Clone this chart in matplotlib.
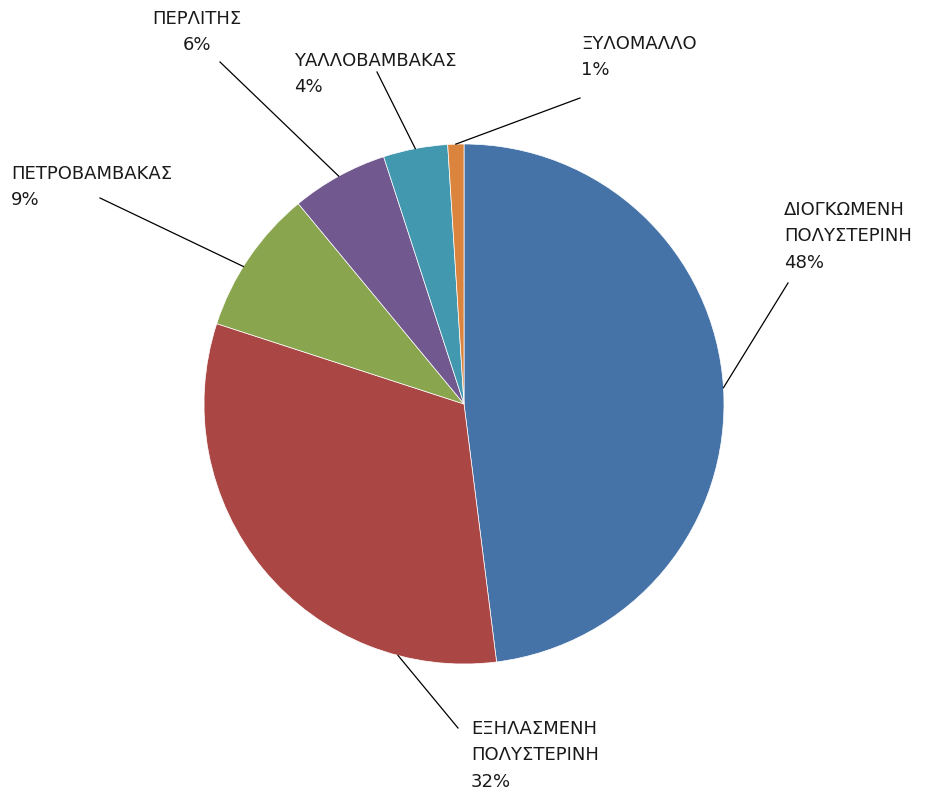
import matplotlib.pyplot as plt
import numpy as np

labels = ['ΔΙΟΓΚΩΜΕΝΗ\nΠΟΛΥΣΤΕΡΙΝΗ', 'ΕΞΗΛΑΣΜΕΝΗ\nΠΟΛΥΣΤΕΡΙΝΗ', 'ΠΕΤΡΟΒΑΜΒΑΚΑΣ',
          'ΠΕΡΛΙΤΗΣ', 'ΥΑΛΛΟΒΑΜΒΑΚΑΣ', 'ΞΥΛΟΜΑΛΛΟ']
values = [48, 32, 9, 6, 4, 1]
colors = ['#4572A7', '#AA4643', '#89A54E', '#71588F', '#4198AF', '#DB843D']

W, H = 931, 796
CX, CY, R = 464, 404, 260   # pie centre / radius in pixels

# label layout in pixels: text anchor (x, top), alignment, leader start, anchor fraction in wedge
text_pos = [(784, 201), (471, 720), (11, 165), (197, 10), (294, 52), (581, 35)]
text_ha = ['left', 'left', 'left', 'center', 'left', 'left']
line_start = [(788, 283), (458, 728), (100, 198), (220, 62), (377, 72), (580, 98)]
anchor_frac = [0.5, 0.19, 0.43, 0.5, 0.5, 0.5]


def px(x, y):
    return (x - CX) / R, (CY - y) / R


fig = plt.figure(figsize=(W / 100, H / 100), dpi=100)
ax = fig.add_axes([0, 0, 1, 1])
wedges, _ = ax.pie(values, colors=colors, startangle=90, counterclock=False,
                   radius=1, wedgeprops=dict(edgecolor='white', linewidth=0.5))
ax.set_xlim(-CX / R, (W - CX) / R)
ax.set_ylim(-(H - CY) / R, CY / R)
ax.set_aspect('auto')
ax.axis('off')

for w, lab, v, tp, ha, ls, f in zip(wedges, labels, values, text_pos, text_ha,
                                   line_start, anchor_frac):
    ang = np.deg2rad(w.theta2 - f * (w.theta2 - w.theta1))
    ex, ey = np.cos(ang), np.sin(ang)
    sx, sy = px(*ls)
    ax.plot([sx, ex], [sy, ey], color='black', linewidth=0.9)
    tx, ty = px(*tp)
    ax.text(tx, ty, '%s\n%d%%' % (lab, v), ha=ha, va='top', fontsize=13,
            color='#1a1a1a', linespacing=1.6, multialignment=ha)

fig.savefig('out.png', dpi=100)
